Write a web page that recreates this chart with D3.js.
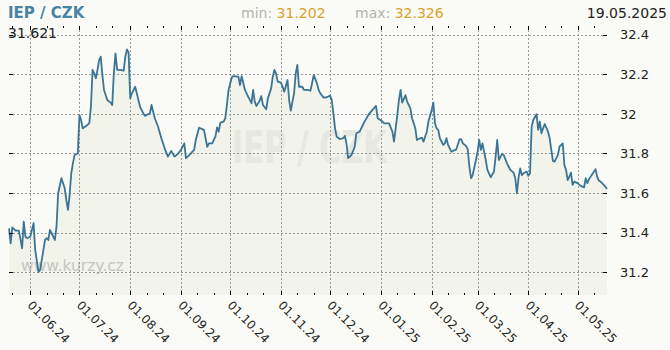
<!DOCTYPE html>
<html>
<head>
<meta charset="utf-8">
<script src="https://cdn.jsdelivr.net/npm/d3@7"></script>
<style>
body { margin: 0; background: #fafbf6; }
svg { display: block; font-family: "DejaVu Sans", Verdana, sans-serif; }
</style>
</head>
<body>
<svg width="670" height="350"></svg>
<script>
// pair name and date of the last quote
var pairName = 'IEP / CZK';
var lastDateLabel = '19.05.2025';
var siteLabel = 'www.kurzy.cz';

// daily IEP/CZK rates
var dates = [
'2024-05-19','2024-05-20','2024-05-21','2024-05-23','2024-05-25','2024-05-27','2024-05-28','2024-05-29','2024-05-30',
'2024-06-01','2024-06-03','2024-06-04','2024-06-06','2024-06-07','2024-06-08','2024-06-10','2024-06-11','2024-06-12',
'2024-06-13','2024-06-14','2024-06-16','2024-06-17','2024-06-18','2024-06-20','2024-06-21','2024-06-22','2024-06-23',
'2024-06-24','2024-06-25','2024-06-26','2024-06-27','2024-06-28','2024-06-30',
'2024-07-01','2024-07-02','2024-07-03','2024-07-05','2024-07-07','2024-07-08','2024-07-09','2024-07-10','2024-07-11',
'2024-07-12','2024-07-13','2024-07-14','2024-07-15','2024-07-16','2024-07-18','2024-07-20','2024-07-21','2024-07-22',
'2024-07-23','2024-07-24','2024-07-26','2024-07-28','2024-07-29','2024-07-30','2024-07-31',
'2024-08-01','2024-08-02','2024-08-04','2024-08-05','2024-08-07','2024-08-09','2024-08-10','2024-08-13','2024-08-14',
'2024-08-15','2024-08-16','2024-08-18','2024-08-20','2024-08-22','2024-08-24','2024-08-26','2024-08-28','2024-08-30',
'2024-09-01','2024-09-03','2024-09-04','2024-09-06','2024-09-09','2024-09-10','2024-09-12','2024-09-15','2024-09-17',
'2024-09-18','2024-09-20','2024-09-22','2024-09-23','2024-09-24','2024-09-25','2024-09-27','2024-09-28','2024-09-29',
'2024-09-30',
'2024-10-02','2024-10-03','2024-10-06','2024-10-07','2024-10-08','2024-10-10','2024-10-12','2024-10-14','2024-10-15',
'2024-10-16','2024-10-17','2024-10-19','2024-10-20','2024-10-21','2024-10-23','2024-10-24','2024-10-26','2024-10-27',
'2024-10-28','2024-10-29','2024-10-30',
'2024-11-01','2024-11-02','2024-11-03','2024-11-05','2024-11-06','2024-11-07','2024-11-08','2024-11-09','2024-11-10',
'2024-11-11','2024-11-12','2024-11-14','2024-11-15','2024-11-17','2024-11-19','2024-11-21','2024-11-23','2024-11-24',
'2024-11-25','2024-11-27','2024-11-29',
'2024-12-01','2024-12-02','2024-12-03','2024-12-04','2024-12-05','2024-12-07','2024-12-09','2024-12-10','2024-12-11',
'2024-12-12','2024-12-14','2024-12-16','2024-12-17','2024-12-19','2024-12-20','2024-12-22','2024-12-25','2024-12-29',
'2024-12-30',
'2025-01-02','2025-01-03','2025-01-06','2025-01-08','2025-01-09','2025-01-11','2025-01-12','2025-01-13','2025-01-14',
'2025-01-16','2025-01-17','2025-01-19','2025-01-20','2025-01-22','2025-01-23','2025-01-25','2025-01-26','2025-01-27',
'2025-01-29','2025-01-30',
'2025-02-01','2025-02-02','2025-02-03','2025-02-04','2025-02-05','2025-02-06','2025-02-08','2025-02-09','2025-02-10',
'2025-02-11','2025-02-13','2025-02-16','2025-02-18','2025-02-19','2025-02-20','2025-02-22','2025-02-23','2025-02-24',
'2025-02-25','2025-02-26','2025-02-28',
'2025-03-01','2025-03-02','2025-03-03','2025-03-04','2025-03-05','2025-03-06','2025-03-07','2025-03-09','2025-03-11',
'2025-03-12','2025-03-13','2025-03-14','2025-03-15','2025-03-16','2025-03-17','2025-03-19','2025-03-20','2025-03-21',
'2025-03-23','2025-03-24','2025-03-25','2025-03-26','2025-03-27','2025-03-28','2025-03-29','2025-03-31',
'2025-04-01','2025-04-02','2025-04-03','2025-04-04','2025-04-06','2025-04-07','2025-04-08','2025-04-09','2025-04-10',
'2025-04-11','2025-04-13','2025-04-14','2025-04-15','2025-04-16','2025-04-17','2025-04-19','2025-04-20','2025-04-22',
'2025-04-23','2025-04-24','2025-04-25','2025-04-26','2025-04-27','2025-04-28','2025-04-29',
'2025-05-01','2025-05-03','2025-05-05','2025-05-06','2025-05-07','2025-05-08','2025-05-09','2025-05-11','2025-05-12',
'2025-05-13','2025-05-14','2025-05-15','2025-05-16','2025-05-18','2025-05-19'
];

var rates = [
31.422,31.346,31.427,31.410,31.410,31.321,31.456,31.380,31.372,
31.380,31.448,31.313,31.202,31.212,31.262,31.363,31.372,31.363,
31.414,31.397,31.363,31.430,31.599,31.675,31.650,31.624,31.565,
31.515,31.590,31.700,31.750,31.792,31.800,
31.994,31.969,31.927,31.939,31.952,32.036,32.222,32.205,32.180,
32.222,32.272,32.289,32.196,32.121,32.070,32.057,32.045,32.205,
32.306,32.222,32.222,32.218,32.289,32.326,32.310,
32.079,32.104,32.137,32.104,32.036,32.003,31.990,32.003,32.045,
32.011,31.978,31.935,31.877,31.826,31.784,31.813,31.784,31.797,
31.818,31.851,31.776,31.792,31.818,31.868,31.930,31.919,31.834,
31.851,31.851,31.885,31.932,31.910,31.956,31.961,31.978,32.045,
32.121,
32.185,32.191,32.188,32.146,32.191,32.121,32.087,32.054,32.121,
32.062,32.040,32.067,32.090,32.045,32.023,32.079,32.129,32.188,
32.222,32.205,32.163,
32.158,32.137,32.112,32.171,32.070,32.016,32.062,32.104,32.205,
32.247,32.137,32.137,32.121,32.121,32.117,32.196,32.154,32.121,
32.104,32.082,32.084,
32.092,32.070,32.003,31.927,31.885,31.873,31.877,31.888,31.851,
31.776,31.792,31.834,31.902,31.910,31.927,31.961,32.003,32.040,
31.978,
31.961,31.952,31.952,31.910,31.860,31.994,32.070,32.121,32.057,
32.095,32.062,32.028,31.978,31.927,31.868,31.877,31.880,31.860,
31.910,31.961,
32.020,32.057,31.952,31.927,31.919,31.877,31.843,31.851,31.877,
31.843,31.809,31.821,31.872,31.872,31.851,31.838,31.821,31.733,
31.675,31.691,31.767,
31.809,31.868,31.818,31.851,31.809,31.767,31.717,31.680,31.708,
31.784,31.868,31.767,31.784,31.797,31.792,31.750,31.733,31.717,
31.703,31.675,31.599,31.675,31.725,31.691,31.700,31.708,
31.687,31.700,31.935,31.969,31.999,31.919,31.961,31.902,31.927,
31.949,31.910,31.877,31.818,31.762,31.759,31.792,31.834,31.851,
31.742,31.717,31.666,31.683,31.703,31.641,31.658,
31.650,31.636,31.629,31.675,31.650,31.670,31.683,31.708,31.721,
31.683,31.663,31.658,31.650,31.632,31.621
];

// y axis tick values and x axis month labels
var yTicks = [31.2, 31.4, 31.6, 31.8, 32, 32.2, 32.4];
var monthTicks = ['2024-06-01','2024-07-01','2024-08-01','2024-09-01','2024-10-01','2024-11-01',
                  '2024-12-01','2025-01-01','2025-02-01','2025-03-01','2025-04-01','2025-05-01'];
var dateRange = ['2024-05-19', '2025-05-19'];

var parseDate = d3.timeParse('%Y-%m-%d');
var data = dates.map(function(d, i) {
    return {date: parseDate(d), rate: rates[i]};
});
var months = monthTicks.map(parseDate);
// small ticks on the 11th and 21st of each month
var minorTicks = [];
d3.timeMonth.range(parseDate('2024-05-01'), parseDate('2025-06-01')).forEach(function(m) {
    [11, 21].forEach(function(day) {
        minorTicks.push(new Date(m.getFullYear(), m.getMonth(), day));
    });
});

var svg = d3.select('svg');
var plot = {l: 9, r: 607, t: 26, b: 295};

var x = d3.scaleTime()
    .domain(dateRange.map(parseDate))
    .range([plot.l, plot.r]);
minorTicks = minorTicks.filter(function(d) { return d >= x.domain()[0] && d <= x.domain()[1]; });

var y = d3.scaleLinear()
    .domain([31.085, 32.444])
    .range([plot.b, plot.t]);

svg.append('rect')
    .attr('width', 670).attr('height', 350)
    .attr('fill', '#fafbf6');

// area under the line
var area = d3.area()
    .x(function(d) { return x(d.date); })
    .y0(plot.b)
    .y1(function(d) { return y(d.rate); });

svg.append('path')
    .datum(data)
    .attr('d', area)
    .attr('fill', '#f2f3ea');

// watermarks
svg.append('text')
    .attr('x', 232).attr('y', 163)
    .attr('textLength', 155)
    .attr('lengthAdjust', 'spacingAndGlyphs')
    .style('font-size', '45px')
    .style('font-weight', 'bold')
    .attr('fill', '#e7e8e1')
    .text(pairName);

svg.append('text')
    .attr('x', 21).attr('y', 271)
    .style('font-size', '15.5px')
    .attr('fill', '#c5c6c2')
    .text(siteLabel);

// dotted grid
var grid = svg.append('g')
    .attr('stroke', '#9a9a9a')
    .attr('stroke-dasharray', '2,2')
    .attr('shape-rendering', 'crispEdges');

grid.selectAll('.hgrid')
    .data(yTicks)
    .enter().append('line')
    .attr('class', 'hgrid')
    .attr('x1', plot.l).attr('x2', plot.r)
    .attr('y1', function(d) { return Math.round(y(d)) + 0.5; })
    .attr('y2', function(d) { return Math.round(y(d)) + 0.5; });

grid.selectAll('.vgrid')
    .data(months)
    .enter().append('line')
    .attr('class', 'vgrid')
    .attr('x1', function(d) { return Math.round(x(d)) + 0.5; })
    .attr('x2', function(d) { return Math.round(x(d)) + 0.5; })
    .attr('y1', plot.t).attr('y2', plot.b);

// the rate line
var line = d3.line()
    .x(function(d) { return x(d.date); })
    .y(function(d) { return y(d.rate); });

svg.append('path')
    .datum(data)
    .attr('d', line)
    .attr('fill', 'none')
    .attr('stroke', '#3a7596')
    .attr('stroke-width', 1.8)
    .attr('stroke-linejoin', 'round');

// axes, all ticks point into the plot
function cleanAxis(g) {
    g.select('.domain').remove();
    g.selectAll('line').attr('stroke', '#000').attr('shape-rendering', 'crispEdges');
}

svg.append('g')
    .attr('transform', 'translate(' + plot.r + ',0)')
    .call(d3.axisRight(y).tickValues(yTicks).tickSize(-4).tickPadding(13).tickFormat(d3.format('')))
    .call(cleanAxis)
    .call(function(g) {
        g.selectAll('text').attr('fill', '#222').style('font-size', '13px')
            .style('font-family', '"DejaVu Sans", Verdana, sans-serif');
    });

svg.append('g')
    .attr('transform', 'translate(' + plot.l + ',0)')
    .call(d3.axisLeft(y).tickValues(yTicks).tickSize(-4).tickFormat(''))
    .call(cleanAxis);

svg.append('g')
    .attr('transform', 'translate(0,' + plot.b + ')')
    .call(d3.axisBottom(x).tickValues(minorTicks).tickSize(-2).tickFormat(''))
    .call(cleanAxis);

svg.append('g')
    .attr('transform', 'translate(0,' + plot.t + ')')
    .call(d3.axisTop(x).tickValues(minorTicks).tickSize(-2).tickFormat(''))
    .call(cleanAxis);

svg.append('g')
    .attr('transform', 'translate(0,' + plot.t + ')')
    .call(d3.axisTop(x).tickValues(months).tickSize(-4).tickFormat(''))
    .call(cleanAxis);

svg.append('g')
    .attr('transform', 'translate(0,' + plot.b + ')')
    .call(d3.axisBottom(x).tickValues(months).tickSize(-4).tickFormat(d3.timeFormat('%d.%m.%y')))
    .call(cleanAxis)
    .call(function(g) {
        g.selectAll('text')
            .attr('x', 0).attr('y', 0).attr('dy', 0)
            .attr('transform', 'translate(-4,11) rotate(45)')
            .attr('text-anchor', 'start')
            .attr('fill', '#222')
            .style('font-size', '12px')
            .style('font-family', '"DejaVu Sans", Verdana, sans-serif');
    });

// header texts
var fmt = d3.format('.3f');

svg.append('text')
    .attr('x', 8).attr('y', 18)
    .style('font-size', '15px')
    .style('font-weight', 'bold')
    .attr('fill', '#4a82a5')
    .text(pairName);

var minMax = svg.append('text')
    .attr('x', 241).attr('y', 18)
    .style('font-size', '14px');
minMax.append('tspan').attr('fill', '#b3b3b0').text('min: ');
minMax.append('tspan').attr('fill', '#dba22a').text(fmt(d3.min(rates)));

var maxText = svg.append('text')
    .attr('x', 355).attr('y', 18)
    .style('font-size', '14px');
maxText.append('tspan').attr('fill', '#b3b3b0').text('max: ');
maxText.append('tspan').attr('fill', '#dba22a').text(fmt(d3.max(rates)));

svg.append('text')
    .attr('x', 667).attr('y', 18)
    .attr('text-anchor', 'end')
    .style('font-size', '14px')
    .attr('fill', '#222')
    .text(lastDateLabel);

svg.append('text')
    .attr('x', 8).attr('y', 38)
    .style('font-size', '14px')
    .attr('fill', '#222')
    .text(fmt(rates[rates.length - 1]));
</script>
</body>
</html>
